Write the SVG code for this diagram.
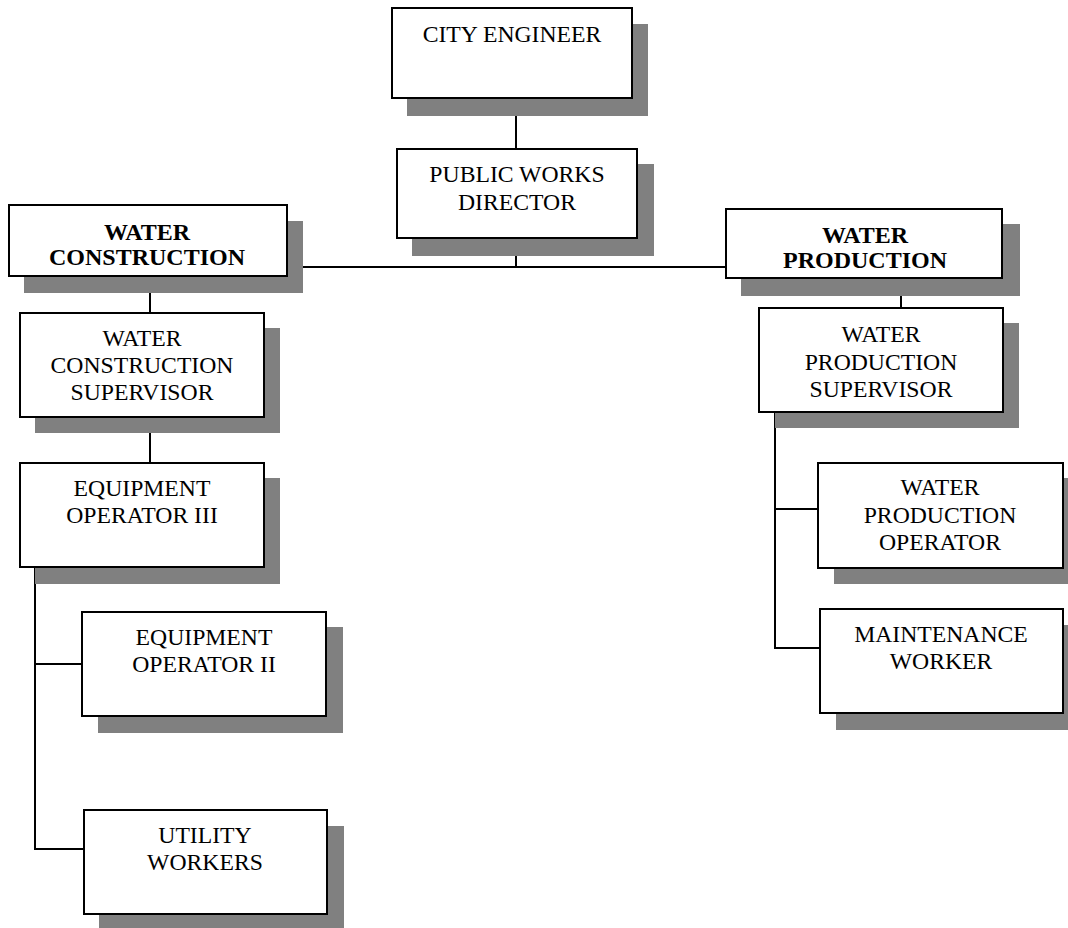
<svg xmlns="http://www.w3.org/2000/svg" width="1068" height="928" viewBox="0 0 1068 928">
<style>
.sh{fill:#808080}
.bx{fill:#fff;stroke:#000;stroke-width:2}
.t{font-family:"Liberation Serif","Times New Roman",serif;font-size:23.7px;fill:#000;text-anchor:middle}
.b{font-family:"Liberation Serif","Times New Roman",serif;font-size:24px;font-weight:bold;fill:#000;text-anchor:middle}
.c{stroke:#000;stroke-width:2;fill:none}
</style>
<rect width="1068" height="928" fill="#fff"/>
<g id="connectors">
<line class="c" x1="516" y1="98" x2="516" y2="149"/>
<line class="c" x1="516" y1="238" x2="516" y2="267"/>
<line class="c" x1="287" y1="267" x2="726" y2="267"/>
<line class="c" x1="150" y1="276" x2="150" y2="313"/>
<line class="c" x1="901" y1="278" x2="901" y2="308"/>
<line class="c" x1="150" y1="417" x2="150" y2="463"/>
<polyline class="c" points="35,567 35,849 84,849"/>
<line class="c" x1="35" y1="664" x2="82" y2="664"/>
<polyline class="c" points="775,412 775,648 820,648"/>
<line class="c" x1="775" y1="509" x2="818" y2="509"/>
</g>
<g id="city-engineer">
<rect class="sh" x="407" y="24" width="241" height="92"/>
<rect class="bx" x="392" y="8" width="240" height="90"/>
<text class="t" x="512" y="42">CITY ENGINEER</text>
</g>
<g id="public-works-director">
<rect class="sh" x="412" y="164" width="242" height="92"/>
<rect class="bx" x="397" y="149" width="240" height="89"/>
<text class="t" x="517" y="182">PUBLIC WORKS</text>
<text class="t" x="517" y="210">DIRECTOR</text>
</g>
<g id="water-construction">
<rect class="sh" x="24" y="221" width="279" height="72"/>
<rect class="bx" x="9" y="205" width="278" height="71"/>
<text class="b" x="147" y="240">WATER</text>
<text class="b" x="147" y="265">CONSTRUCTION</text>
</g>
<g id="water-production">
<rect class="sh" x="741" y="224" width="279" height="72"/>
<rect class="bx" x="726" y="209" width="276" height="69"/>
<text class="b" x="865" y="243">WATER</text>
<text class="b" x="865" y="268">PRODUCTION</text>
</g>
<g id="water-construction-supervisor">
<rect class="sh" x="35" y="328" width="245" height="105"/>
<rect class="bx" x="20" y="313" width="244" height="104"/>
<text class="t" x="142" y="346">WATER</text>
<text class="t" x="142" y="373">CONSTRUCTION</text>
<text class="t" x="142" y="400">SUPERVISOR</text>
</g>
<g id="equipment-operator-iii">
<rect class="sh" x="35" y="478" width="245" height="106"/>
<rect class="bx" x="20" y="463" width="244" height="104"/>
<text class="t" x="142" y="496">EQUIPMENT</text>
<text class="t" x="142" y="523">OPERATOR III</text>
</g>
<g id="equipment-operator-ii">
<rect class="sh" x="98" y="627" width="245" height="106"/>
<rect class="bx" x="82" y="612" width="244" height="104"/>
<text class="t" x="204" y="645">EQUIPMENT</text>
<text class="t" x="204" y="672">OPERATOR II</text>
</g>
<g id="utility-workers">
<rect class="sh" x="99" y="826" width="245" height="102"/>
<rect class="bx" x="84" y="810" width="243" height="104"/>
<text class="t" x="205" y="843">UTILITY</text>
<text class="t" x="205" y="870">WORKERS</text>
</g>
<g id="water-production-supervisor">
<rect class="sh" x="775" y="323" width="244" height="105"/>
<rect class="bx" x="759" y="308" width="244" height="104"/>
<text class="t" x="881" y="342">WATER</text>
<text class="t" x="881" y="370">PRODUCTION</text>
<text class="t" x="881" y="397">SUPERVISOR</text>
</g>
<g id="water-production-operator">
<rect class="sh" x="834" y="478" width="244" height="106"/>
<rect class="bx" x="818" y="463" width="245" height="105"/>
<text class="t" x="940" y="495">WATER</text>
<text class="t" x="940" y="523">PRODUCTION</text>
<text class="t" x="940" y="550">OPERATOR</text>
</g>
<g id="maintenance-worker">
<rect class="sh" x="836" y="625" width="244" height="105"/>
<rect class="bx" x="820" y="609" width="243" height="104"/>
<text class="t" x="941" y="642">MAINTENANCE</text>
<text class="t" x="941" y="669">WORKER</text>
</g>
</svg>
